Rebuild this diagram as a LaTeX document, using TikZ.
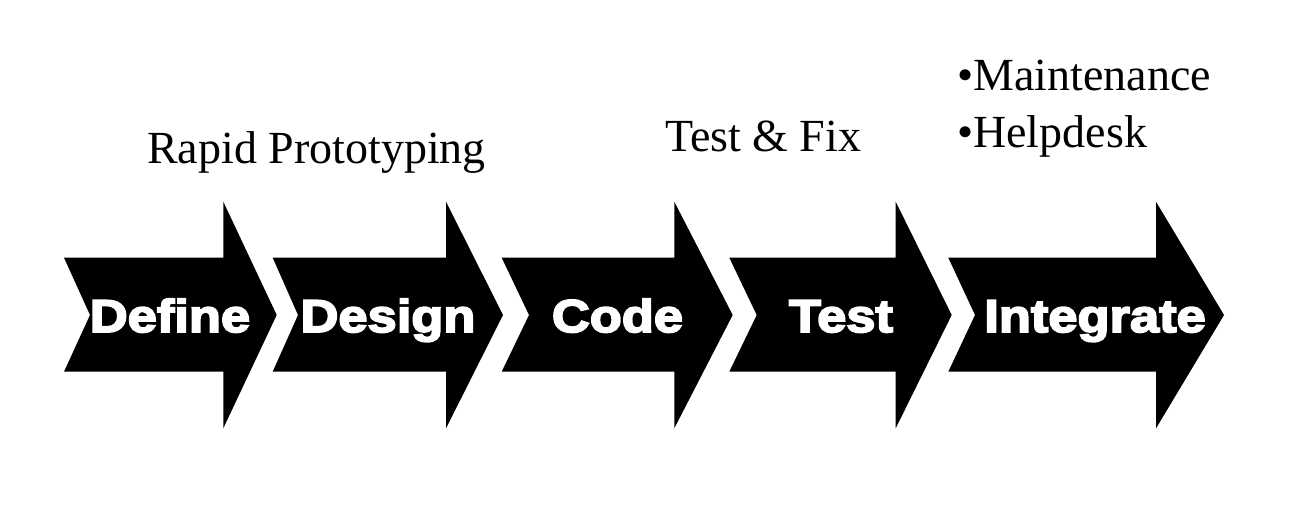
\documentclass[tikz,border=0pt]{standalone}
\usepackage{fontspec}
\setmainfont{Liberation Serif}
\newfontfamily\heavyfont[FakeBold=4,FakeStretch=1.14]{Liberation Sans Bold}
\begin{document}
\begin{tikzpicture}[x=1pt,y=-1pt,
  stagearrow/.style={fill=black,draw=none},
  stagelabel/.style={text=white,font=\heavyfont\fontsize{46}{50}\selectfont,anchor=base,inner sep=0pt},
  notelabel/.style={font=\fontsize{46}{52}\selectfont,anchor=base west,inner sep=0pt}]
\useasboundingbox (0,0) rectangle (1290,504);
\def\sT{257.7}\def\sB{371.7}\def\hT{201.7}\def\hB{428.3}\def\mY{315}
% arrows: left, notch, head, tip
\foreach \l/\n/\h/\t in {64/90/223.3/276.7, 272.7/298/446/503, 501.7/529/674.3/732.7, 729.3/756.7/895.7/951.7, 948.3/975/1156/1224}{
  \fill[stagearrow] (\l,\sT) -- (\h,\sT) -- (\h,\hT) -- (\t,\mY) -- (\h,\hB) -- (\h,\sB) -- (\l,\sB) -- (\n,\mY) -- cycle;
}
\node[stagelabel] (define) at (170,332) {Define};
\node[stagelabel] (design) at (388,332) {Design};
\node[stagelabel] (code) at (617.5,332) {Code};
\node[stagelabel] (test) at (841,332) {Test};
\node[stagelabel] (integrate) at (1095,332) {Integrate};
\node[notelabel] (rapid) at (147,163) {Rapid Prototyping};
\node[notelabel] (testfix) at (665,151.7) {Test \& Fix};
\node[notelabel] (maint) at (957,90) {•Maintenance};
\node[notelabel] (help) at (957,147) {•Helpdesk};
\end{tikzpicture}
\end{document}
